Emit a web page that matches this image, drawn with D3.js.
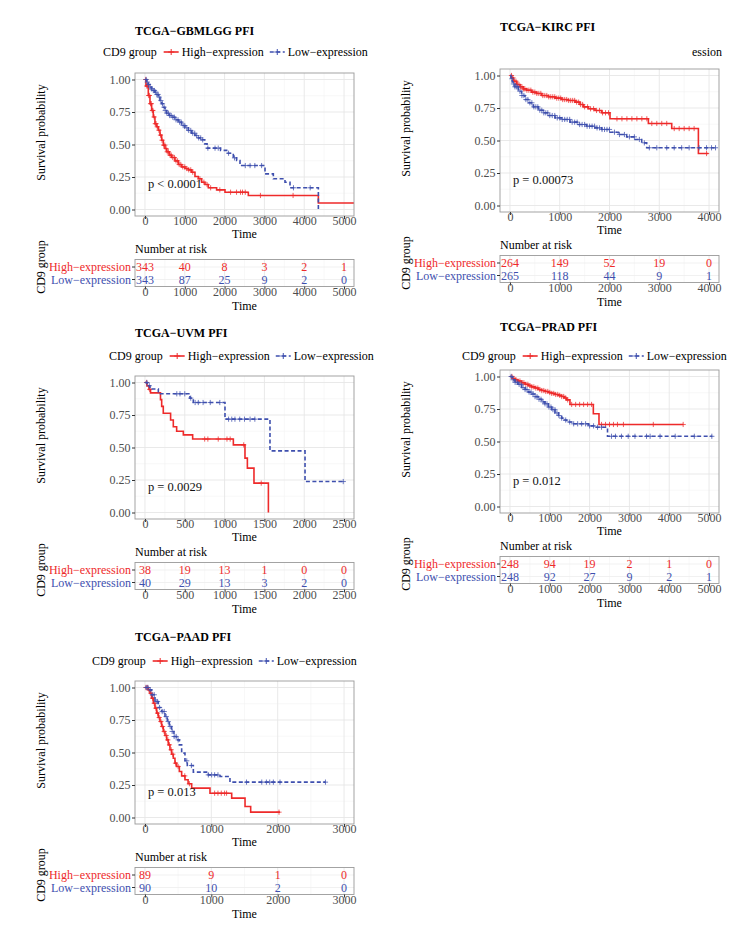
<!DOCTYPE html>
<html><head><meta charset="utf-8">
<script src="https://cdn.jsdelivr.net/npm/d3@7"></script>
<style>
body{margin:0;background:#fff}
svg{display:block}
text{font-family:"Liberation Serif","Times New Roman",serif}
</style>
</head><body>
<svg id="c" width="733" height="944" font-family="Liberation Serif, Times New Roman, serif"></svg>
<script>
// ---------------- DATA ----------------
const groupTitle = "CD9 group";
const groupNames = ["High\u2212expression", "Low\u2212expression"];
const yTicks = [0, 0.25, 0.5, 0.75, 1];
const yTickLabels = ["0.00", "0.25", "0.50", "0.75", "1.00"];

// TCGA-GBMLGG
const gbmTitle = "TCGA\u2212GBMLGG PFI";
const gbmPval = "p < 0.0001";
const gbmTicks = [0, 1000, 2000, 3000, 4000, 5000];
const gbmRiskHigh = [343, 40, 8, 3, 2, 1];
const gbmRiskLow = [343, 87, 25, 9, 2, 0];
const gbmHigh = [[0,1],[25,0.95],[84,0.877],[126,0.814],[168,0.762],[209,0.712],[251,0.66],[293,0.636],[335,0.61],[377,0.572],[419,0.533],[461,0.495],[502,0.469],[544,0.444],[611,0.418],[670,0.4],[754,0.374],[838,0.346],[921,0.328],[1005,0.315],[1089,0.305],[1172,0.287],[1256,0.254],[1340,0.236],[1424,0.21],[1507,0.192],[1591,0.167],[1800,0.151],[2010,0.133],[2596,0.108],[4355,0.05],[5400,0.05]];
const gbmLow = [[0,1],[42,0.98],[84,0.962],[126,0.941],[168,0.928],[209,0.915],[251,0.903],[293,0.885],[335,0.864],[377,0.838],[419,0.813],[461,0.787],[502,0.762],[544,0.741],[611,0.723],[670,0.71],[754,0.69],[838,0.672],[921,0.646],[1005,0.628],[1089,0.608],[1172,0.587],[1256,0.569],[1340,0.551],[1424,0.536],[1500,0.505],[1560,0.472],[1900,0.455],[2052,0.433],[2219,0.397],[2303,0.377],[2387,0.338],[3015,0.274],[3224,0.236],[3517,0.21],[3643,0.167],[4355,0]];
const gbmHighCens = [20,45,70,95,110,140,160,185,200,230,260,280,310,350,390,430,470,500,530,560,590,630,660,700,740,780,820,860,900,950,1000,1050,1100,1150,1200,1380,1480,1560,1650,1880,2150,2300,2400,2450,2520,2900,3720];
const gbmLowCens = [30,60,90,130,170,210,240,270,300,330,360,400,440,480,510,550,590,620,660,700,740,780,830,870,910,960,1000,1050,1100,1150,1200,1250,1300,1350,1400,1450,1580,1760,1840,2100,2250,2520,2640,2760,2930,3730,4150];

// TCGA-KIRC
const kircTitle = "TCGA\u2212KIRC PFI";
const kircLegendFragment = "ession";
const kircPval = "p = 0.00073";
const kircTicks = [0, 1000, 2000, 3000, 4000];
const kircRiskHigh = [264, 149, 52, 19, 0];
const kircRiskLow = [265, 118, 44, 9, 1];
const kircHigh = [[0,1],[34,0.982],[67,0.956],[134,0.931],[201,0.913],[268,0.897],[335,0.887],[436,0.872],[536,0.862],[637,0.846],[771,0.836],[905,0.826],[1039,0.815],[1173,0.808],[1307,0.795],[1407,0.777],[1474,0.759],[1575,0.744],[1709,0.731],[1843,0.713],[2010,0.667],[2781,0.631],[3250,0.592],[3786,0.40],[3987,0.40]];
const kircLow = [[0,1],[20,0.975],[45,0.95],[67,0.935],[100,0.913],[168,0.879],[235,0.846],[302,0.815],[369,0.79],[469,0.759],[570,0.733],[670,0.713],[771,0.692],[905,0.674],[1039,0.662],[1206,0.641],[1374,0.623],[1541,0.61],[1709,0.597],[1843,0.585],[2010,0.564],[2178,0.546],[2345,0.528],[2513,0.508],[2647,0.482],[2747,0.444],[4134,0.444]];
const kircHighCens = [30,60,90,120,150,180,210,240,270,300,340,380,420,460,500,540,580,620,660,700,740,780,820,860,900,940,980,1020,1060,1100,1140,1180,1220,1260,1300,1340,1380,1420,1460,1500,1560,1620,1680,1740,1800,1860,1920,1980,2150,2250,2350,2450,2550,2650,2750,2850,2950,3050,3150,3300,3400,3500,3600,3700,3950];
const kircLowCens = [40,70,100,130,160,200,240,280,320,360,400,440,480,520,560,600,640,680,720,760,800,850,900,950,1000,1050,1100,1150,1200,1250,1300,1350,1400,1450,1500,1550,1600,1650,1700,1750,1800,1850,1900,1950,2000,2100,2200,2300,2400,2500,2600,2700,2800,2950,3150,3300,3450,3600,3800,3950,4050,4130];

// TCGA-UVM
const uvmTitle = "TCGA\u2212UVM PFI";
const uvmPval = "p = 0.0029";
const uvmTicks = [0, 500, 1000, 1500, 2000, 2500];
const uvmRiskHigh = [38, 19, 13, 1, 0, 0];
const uvmRiskLow = [40, 29, 13, 3, 2, 0];
const uvmHigh = [[0,1],[25,0.974],[50,0.947],[70,0.92],[195,0.868],[210,0.816],[230,0.763],[322,0.711],[356,0.66],[398,0.625],[482,0.597],[599,0.565],[1110,0.52],[1256,0.418],[1286,0.341],[1369,0.226],[1550,0]];
const uvmLow = [[0,1],[30,0.975],[63,0.95],[168,0.913],[565,0.88],[607,0.846],[1005,0.718],[1570,0.474],[2010,0.238],[2490,0.238]];
const uvmHighCens = [20,60,750,790,920,1030,1070,1240,1460];
const uvmLowCens = [25,55,400,440,500,575,630,670,730,820,940,1050,1090,1130,1190,1250,1320,1380,2490];

// TCGA-PRAD
const pradTitle = "TCGA\u2212PRAD PFI";
const pradPval = "p = 0.012";
const pradTicks = [0, 1000, 2000, 3000, 4000, 5000];
const pradRiskHigh = [248, 94, 19, 2, 1, 0];
const pradRiskLow = [248, 92, 27, 9, 2, 1];
const pradHigh = [[0,1],[60,0.985],[126,0.975],[200,0.965],[293,0.952],[380,0.94],[461,0.93],[540,0.92],[628,0.911],[710,0.9],[796,0.892],[880,0.885],[963,0.877],[1050,0.87],[1131,0.862],[1220,0.855],[1298,0.846],[1360,0.835],[1424,0.82],[1507,0.785],[2094,0.713],[2236,0.631],[4350,0.631]];
const pradLow = [[0,1],[60,0.975],[126,0.955],[200,0.94],[293,0.915],[380,0.9],[461,0.88],[540,0.865],[628,0.845],[710,0.825],[796,0.805],[880,0.79],[963,0.765],[1050,0.745],[1131,0.72],[1220,0.7],[1298,0.68],[1360,0.665],[1424,0.65],[1549,0.636],[1968,0.62],[2136,0.61],[2450,0.54],[5080,0.54]];
const pradHighCens = [50,100,150,200,250,300,350,400,450,500,550,600,650,700,750,800,850,900,950,1000,1050,1100,1150,1200,1250,1300,1350,1400,1450,1550,1650,1750,1850,1950,2050,2300,2400,2500,2600,2700,2850,3600,4350];
const pradLowCens = [30,80,130,180,230,280,330,380,430,480,530,580,630,680,730,780,830,880,930,980,1030,1080,1130,1180,1230,1300,1400,1500,1600,1700,1800,1900,2000,2100,2200,2300,2550,2650,2800,2970,3140,3430,3520,3770,4150,4630,5070];

// TCGA-PAAD
const paadTitle = "TCGA\u2212PAAD PFI";
const paadPval = "p = 0.013";
const paadTicks = [0, 1000, 2000, 3000];
const paadRiskHigh = [89, 9, 1, 0];
const paadRiskLow = [90, 10, 2, 0];
const paadHigh = [[0,1],[50,0.982],[75,0.956],[100,0.918],[126,0.879],[151,0.841],[176,0.803],[201,0.769],[226,0.738],[251,0.7],[276,0.662],[302,0.631],[327,0.597],[352,0.559],[377,0.521],[402,0.487],[427,0.456],[452,0.418],[477,0.392],[518,0.354],[553,0.32],[603,0.29],[650,0.26],[704,0.226],[980,0.187],[1307,0.149],[1508,0.085],[1593,0.041],[2035,0.041]];
const paadLow = [[0,1],[50,0.982],[100,0.944],[151,0.892],[201,0.846],[251,0.815],[302,0.777],[337,0.738],[367,0.7],[402,0.662],[437,0.623],[477,0.597],[518,0.559],[553,0.495],[603,0.436],[638,0.4],[729,0.349],[955,0.328],[1131,0.315],[1281,0.272],[2720,0.272]];
const paadHighCens = [15,40,60,90,115,140,165,190,215,240,265,290,320,345,370,395,420,460,500,600,670,1050,1100,1150,1200,1230,2020];
const paadLowCens = [20,45,80,110,140,170,190,220,260,290,320,350,380,410,440,470,500,630,700,955,1005,1050,1100,1530,1760,1830,1880,1935,2035,2720];

// ---------------- DRAWING ----------------
const RED = "#EE2A2A", BLUE = "#3E4FAE";
const TICKCOL = "#4D4D4D";
const FONT = "Liberation Serif, Times New Roman, serif";
const svg = d3.select("#c");
const defs = svg.append("defs");

function survAt(steps, t) {
  let s = steps[0][1];
  for (const [tt, ss] of steps) { if (tt <= t) s = ss; else break; }
  return s;
}
function plusPath(cx, cy, r) {
  return `M${cx - r},${cy}H${cx + r}M${cx},${cy - r}V${cy + r}`;
}

function drawPanel(o, idx) {
  const g = svg.append("g");
  const W = 219, H = 143;
  const x0 = o.x0, top = o.top, bottom = top + H;
  const tmax = o.ticks[o.ticks.length - 1];
  const x = d3.scaleLinear().domain([-0.05 * tmax, 1.05 * tmax]).range([x0, x0 + W]);
  const y = d3.scaleLinear().domain([-0.05, 1.05]).range([bottom, top]);
  const step = o.ticks[1] - o.ticks[0];
  const minorX = o.ticks.slice(0, -1).map(t => t + step / 2);
  const minorY = yTicks.slice(0, -1).map(t => t + 0.125);

  // title
  g.append("text").attr("x", x0).attr("y", o.titleY).attr("dy", "0.35em")
    .attr("font-size", 12).attr("font-weight", "bold").attr("fill", "#000").text(o.title);

  // legend
  if (o.legendX != null) {
    const ly = o.legendY;
    let cx = o.legendX;
    const t1 = g.append("text").attr("x", cx).attr("y", ly).attr("dy", "0.35em").attr("font-size", 12).text(groupTitle);
    cx += t1.node().getComputedTextLength() + 7;
    [RED, BLUE].forEach((col, i) => {
      g.append("line").attr("x1", cx).attr("x2", cx + 15).attr("y1", ly).attr("y2", ly)
        .attr("stroke", col).attr("stroke-width", 1.6).attr("stroke-dasharray", i ? "4,2.5" : null);
      g.append("path").attr("d", plusPath(cx + 7.5, ly, 3)).attr("stroke", col).attr("stroke-width", 1);
      cx += 18;
      const tt = g.append("text").attr("x", cx).attr("y", ly).attr("dy", "0.35em").attr("font-size", 12).text(groupNames[i]);
      cx += tt.node().getComputedTextLength() + 6;
    });
  } else if (o.legendFragment) {
    g.append("text").attr("x", o.fragmentRight).attr("y", o.legendY).attr("dy", "0.35em")
      .attr("text-anchor", "end").attr("font-size", 12).text(o.legendFragment);
  }

  // main panel grid
  const grid = g.append("g");
  minorX.forEach(t => grid.append("line").attr("x1", x(t)).attr("x2", x(t)).attr("y1", top).attr("y2", bottom).attr("stroke", "#F3F3F3").attr("stroke-width", 0.6));
  minorY.forEach(v => grid.append("line").attr("x1", x0).attr("x2", x0 + W).attr("y1", y(v)).attr("y2", y(v)).attr("stroke", "#F3F3F3").attr("stroke-width", 0.6));
  o.ticks.forEach(t => grid.append("line").attr("x1", x(t)).attr("x2", x(t)).attr("y1", top).attr("y2", bottom).attr("stroke", "#E6E6E6").attr("stroke-width", 0.9));
  yTicks.forEach(v => grid.append("line").attr("x1", x0).attr("x2", x0 + W).attr("y1", y(v)).attr("y2", y(v)).attr("stroke", "#E6E6E6").attr("stroke-width", 0.9));

  // clip
  const cid = "clip" + idx;
  defs.append("clipPath").attr("id", cid).append("rect").attr("x", x0).attr("y", top).attr("width", W).attr("height", H);
  const plot = g.append("g").attr("clip-path", `url(#${cid})`);
  const line = d3.line().x(d => x(d[0])).y(d => y(d[1])).curve(d3.curveStepAfter);
  const series = [
    {steps: o.high, cens: o.highCens, col: RED, dash: null},
    {steps: o.low, cens: o.lowCens, col: BLUE, dash: "4,2.5"}
  ];
  series.forEach(s => {
    plot.append("path").attr("d", line(s.steps)).attr("fill", "none").attr("stroke", s.col)
      .attr("stroke-width", 1.6).attr("stroke-dasharray", s.dash);
    plot.append("path").attr("d", s.cens.map(t => plusPath(x(t), y(survAt(s.steps, t)), 2.6)).join(""))
      .attr("stroke", s.col).attr("stroke-width", 0.9).attr("fill", "none").attr("opacity", 0.85);
  });

  // p-value
  g.append("text").attr("x", x(0) + 3).attr("y", y(0.2)).attr("dy", "0.35em").attr("font-size", 12.5).attr("fill", "#111").text(o.pval);

  // border
  g.append("rect").attr("x", x0).attr("y", top).attr("width", W).attr("height", H).attr("fill", "none").attr("stroke", "#9A9A9A").attr("stroke-width", 0.9);

  // y axis
  const ya = g.append("g").attr("transform", `translate(${x0},0)`)
    .call(d3.axisLeft(y).tickValues(yTicks).tickFormat((d, i) => yTickLabels[i]).tickSize(3).tickPadding(1.5));
  ya.attr("font-family", FONT);
  ya.select(".domain").remove();
  ya.selectAll("line").attr("stroke", "#333");
  ya.selectAll("text").attr("font-size", 12).attr("fill", TICKCOL);

  // x axis
  const xa = g.append("g").attr("transform", `translate(0,${bottom})`)
    .call(d3.axisBottom(x).tickValues(o.ticks).tickFormat(d3.format("d")).tickSize(3));
  xa.attr("font-family", FONT);
  xa.select(".domain").remove();
  xa.selectAll("line").attr("stroke", "#333");
  xa.selectAll("text").attr("y", 4.5).attr("dy", "0.35em").attr("font-size", 12).attr("fill", TICKCOL);

  g.append("text").attr("x", x0 + W / 2).attr("y", bottom + 18).attr("dy", "0.35em").attr("text-anchor", "middle").attr("font-size", 12).text("Time");

  // y title
  const yc = top + H / 2 - 12;
  g.append("text").attr("transform", `translate(${x0 - 94},${yc}) rotate(-90)`).attr("dy", "0.35em")
    .attr("text-anchor", "middle").attr("font-size", 12).text("Survival probability");

  // ---------- risk table ----------
  const tTop = bottom + 43.5, tH = 27, tBot = tTop + tH;
  g.append("text").attr("x", x0).attr("y", bottom + 33).attr("dy", "0.35em").attr("font-size", 12).text("Number at risk");
  const rowY = [tTop + 7.5, tTop + 20];
  minorX.forEach(t => g.append("line").attr("x1", x(t)).attr("x2", x(t)).attr("y1", tTop).attr("y2", tBot).attr("stroke", "#F3F3F3").attr("stroke-width", 0.6));
  o.ticks.forEach(t => g.append("line").attr("x1", x(t)).attr("x2", x(t)).attr("y1", tTop).attr("y2", tBot).attr("stroke", "#E6E6E6").attr("stroke-width", 0.9));
  rowY.forEach(ry => g.append("line").attr("x1", x0).attr("x2", x0 + W).attr("y1", ry).attr("y2", ry).attr("stroke", "#EDEDED").attr("stroke-width", 0.8));
  g.append("rect").attr("x", x0).attr("y", tTop).attr("width", W).attr("height", tH).attr("fill", "none").attr("stroke", "#9A9A9A").attr("stroke-width", 0.9);

  [o.riskHigh, o.riskLow].forEach((arr, i) => {
    const col = i ? BLUE : RED;
    arr.forEach((v, j) => g.append("text").attr("x", x(o.ticks[j])).attr("y", rowY[i]).attr("dy", "0.35em")
      .attr("text-anchor", "middle").attr("font-size", 12).attr("fill", col).text(v));
    g.append("line").attr("x1", x0 - 3).attr("x2", x0).attr("y1", rowY[i]).attr("y2", rowY[i]).attr("stroke", "#333");
    g.append("text").attr("x", x0 - 4).attr("y", rowY[i]).attr("dy", "0.35em").attr("text-anchor", "end")
      .attr("font-size", 12).attr("fill", col).text(groupNames[i]);
  });

  const ta = g.append("g").attr("transform", `translate(0,${tBot})`)
    .call(d3.axisBottom(x).tickValues(o.ticks).tickFormat(d3.format("d")).tickSize(3));
  ta.attr("font-family", FONT);
  ta.select(".domain").remove();
  ta.selectAll("line").attr("stroke", "#333");
  ta.selectAll("text").attr("y", 5.5).attr("dy", "0.35em").attr("font-size", 12).attr("fill", TICKCOL);
  g.append("text").attr("x", x0 + W / 2).attr("y", tTop + 46.5).attr("dy", "0.35em").attr("text-anchor", "middle").attr("font-size", 12).text("Time");

  g.append("text").attr("transform", `translate(${x0 - 94},${tTop + tH / 2 - 6}) rotate(-90)`).attr("dy", "0.35em")
    .attr("text-anchor", "middle").attr("font-size", 12).text(groupTitle);
}

const panels = [
  {x0: 135, top: 73, titleY: 31, legendX: 103, legendY: 52, title: gbmTitle, pval: gbmPval, ticks: gbmTicks,
   riskHigh: gbmRiskHigh, riskLow: gbmRiskLow, high: gbmHigh, low: gbmLow, highCens: gbmHighCens, lowCens: gbmLowCens},
  {x0: 500, top: 69, titleY: 27, legendX: null, legendFragment: kircLegendFragment, fragmentRight: 722, legendY: 52, title: kircTitle, pval: kircPval, ticks: kircTicks,
   riskHigh: kircRiskHigh, riskLow: kircRiskLow, high: kircHigh, low: kircLow, highCens: kircHighCens, lowCens: kircLowCens},
  {x0: 135, top: 376, titleY: 333, legendX: 109, legendY: 356, title: uvmTitle, pval: uvmPval, ticks: uvmTicks,
   riskHigh: uvmRiskHigh, riskLow: uvmRiskLow, high: uvmHigh, low: uvmLow, highCens: uvmHighCens, lowCens: uvmLowCens},
  {x0: 500, top: 370, titleY: 327, legendX: 462, legendY: 356, title: pradTitle, pval: pradPval, ticks: pradTicks,
   riskHigh: pradRiskHigh, riskLow: pradRiskLow, high: pradHigh, low: pradLow, highCens: pradHighCens, lowCens: pradLowCens},
  {x0: 135, top: 681, titleY: 637, legendX: 92, legendY: 661, title: paadTitle, pval: paadPval, ticks: paadTicks,
   riskHigh: paadRiskHigh, riskLow: paadRiskLow, high: paadHigh, low: paadLow, highCens: paadHighCens, lowCens: paadLowCens}
];
panels.forEach((p, i) => drawPanel(p, i));
</script>
</body></html>
